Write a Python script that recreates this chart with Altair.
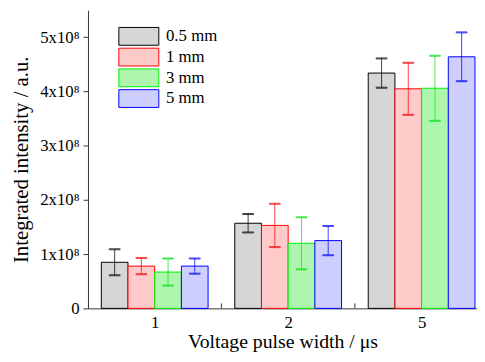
import altair as alt
import pandas as pd

categories = ["1", "2", "5"]
series = ["0.5 mm", "1 mm", "3 mm", "5 mm"]
# integrated intensity in units of 1e8
values = {
    "0.5 mm": [0.85, 1.57, 4.34],
    "1 mm": [0.78, 1.53, 4.05],
    "3 mm": [0.67, 1.20, 4.06],
    "5 mm": [0.78, 1.25, 4.64],
}
errors = {
    "0.5 mm": [0.24, 0.17, 0.27],
    "1 mm": [0.15, 0.40, 0.48],
    "3 mm": [0.25, 0.48, 0.60],
    "5 mm": [0.14, 0.27, 0.45],
}
line_colors = ["#000000", "#ff0000", "#00ee00", "#0000ff"]
fill_colors = ["#d6d6d6", "#ffcaca", "#aef5ae", "#cfcfff"]

rows = []
for si, s in enumerate(series):
    for gi, c in enumerate(categories):
        rows.append({"cat": c, "gi": gi + 1, "series": s, "si": si,
                     "v": values[s][gi], "e": errors[s][gi]})
df = pd.DataFrame(rows)
bounds = pd.DataFrame({"b": [i + 1.5 for i in range(len(categories) - 1)]})

FONT = "Liberation Serif"
W, H = 394, 302

base = alt.Chart(df).transform_calculate(
    xc="datum.gi + (datum.si - 1.5) * 0.2",
    x0="datum.gi + (datum.si - 1.5) * 0.2 - 0.1",
    x1="datum.gi + (datum.si - 1.5) * 0.2 + 0.1",
    lo="datum.v - datum.e",
    hi="datum.v + datum.e",
)

xscale = alt.Scale(domain=[0.5, 3.415], nice=False, zero=False)
yscale = alt.Scale(domain=[0, 5.5], nice=False)

legend = alt.Legend(
    title=None, orient="none", legendX=42, legendY=17,
    labelFont=FONT, labelFontSize=17, labelColor="black",
    symbolType="M-2.25,-1L2.25,-1L2.25,1L-2.25,1Z", symbolSize=324,
    symbolStrokeWidth=1, rowPadding=-2, labelOffset=18,
)

xaxis = alt.Axis(
    title="Voltage pulse width / μs", values=[1, 2, 3],
    labelExpr="datum.value == 1 ? '1' : datum.value == 2 ? '2' : '5'",
    ticks=False, labelFont=FONT, titleFont=FONT, titleFontSize=20,
    labelPadding=6, titlePadding=2, grid=False,
)
yaxis = alt.Axis(
    title="Integrated intensity / a.u.",
    values=[i * 0.5 for i in range(11)],
    labelExpr="datum.value == 0 ? '0' : (datum.value % 1 == 0 ? datum.value + 'x10⁸' : '')",
    tickSize={"condition": {"test": "datum.value % 1 != 0", "value": 3}, "value": 5},
    labelFont=FONT, titleFont=FONT,
    labelPadding=4, titlePadding=8, grid=False,
)

bars = base.mark_bar(strokeWidth=1).encode(
    x=alt.X("x0:Q", scale=xscale, axis=xaxis),
    x2="x1:Q",
    y=alt.Y("v:Q", scale=yscale, axis=yaxis),
    y2=alt.datum(0),
    fill=alt.Fill("series:N", sort=series,
                  scale=alt.Scale(domain=series, range=fill_colors), legend=legend),
    stroke=alt.Stroke("series:N", sort=series,
                      scale=alt.Scale(domain=series, range=line_colors), legend=legend),
)

stroke_enc = alt.Stroke("series:N", legend=None)

rules = base.mark_rule(strokeWidth=1, opacity=0.75).encode(
    x="xc:Q", y="lo:Q", y2="hi:Q", stroke=stroke_enc,
)
cap_lo = base.mark_tick(orient="horizontal", size=11, thickness=1, opacity=0.75).encode(
    x="xc:Q", y="lo:Q", stroke=stroke_enc,
)
cap_hi = base.mark_tick(orient="horizontal", size=11, thickness=1, opacity=0.75).encode(
    x="xc:Q", y="hi:Q", stroke=stroke_enc,
)
# inward ticks on the x axis between the groups
xticks = alt.Chart(bounds).mark_rule(color="#333333", strokeWidth=1).encode(
    x="b:Q", y=alt.value(H), y2=alt.value(H - 5),
)

chart = alt.layer(bars, rules, cap_lo, cap_hi, xticks).properties(
    width=W, height=H,
    autosize=alt.AutoSizeParams(type="none"),
    padding={"left": 81, "top": 0, "right": 0, "bottom": 44},
).configure_view(stroke=None).configure_axis(
    labelFont=FONT, titleFont=FONT, labelFontSize=17, titleFontSize=21,
    labelColor="black", titleColor="black", titleFontWeight="normal",
    domainColor="#333333", tickColor="#333333", domainWidth=1, tickWidth=1,
).configure_legend(labelFont=FONT)

chart.save("out.html", embed_options={"renderer": "svg", "actions": False})
